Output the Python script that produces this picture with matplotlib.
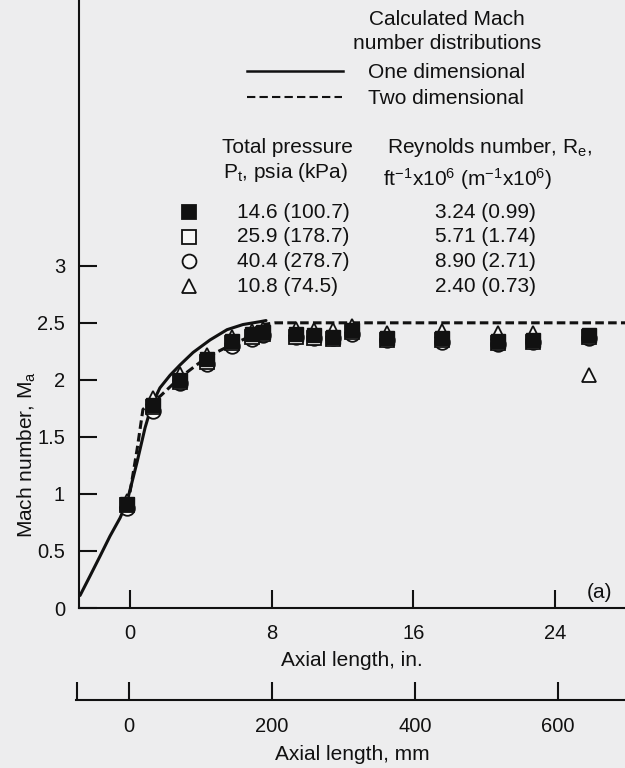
import matplotlib
matplotlib.use('Agg')
import matplotlib.pyplot as plt
from matplotlib.lines import Line2D

plt.rcParams['font.family'] = 'Liberation Sans'
plt.rcParams['mathtext.fontset'] = 'custom'
plt.rcParams['mathtext.rm'] = 'Liberation Sans'
plt.rcParams['mathtext.it'] = 'Liberation Sans:italic'
plt.rcParams['mathtext.default'] = 'regular'

## calculated Mach number distributions (axial length in inches)
one_dim_x = [-2.82, -2.26, -1.69, -1.13, -0.56, -0.17, 0.40, 0.85, 1.24, 1.69,
             2.26, 2.82, 3.56, 4.52, 5.48, 6.38, 7.34, 7.68]
one_dim_m = [0.11, 0.28, 0.455, 0.63, 0.79, 0.93, 1.28, 1.58, 1.785, 1.93,
             2.04, 2.13, 2.24, 2.35, 2.44, 2.485, 2.51, 2.52]
two_dim_x = [0.0, 0.40, 0.73, 1.24, 1.69, 2.82, 4.35, 5.76, 6.78, 7.51, 8.19, 27.95]
two_dim_m = [1.015, 1.39, 1.74, 1.82, 1.855, 2.02, 2.20, 2.31, 2.38, 2.485, 2.50, 2.50]

## measured points
station_in = [-0.17, 1.28, 2.82, 4.35, 5.76, 6.89, 7.51, 9.37, 10.39, 11.46,
              12.54, 14.51, 17.62, 20.78, 22.76, 25.92]
mach_p146 = [0.91, 1.78, 2.00, 2.18, 2.34, 2.40, 2.42, 2.40, 2.39, 2.38,
             2.44, 2.37, 2.37, 2.34, 2.35, 2.39]
mach_p259 = [0.90, 1.76, 1.98, 2.16, 2.32, 2.38, 2.40, 2.38, 2.37, 2.36,
             2.42, 2.35, 2.35, 2.32, 2.33, 2.38]
mach_p404 = [0.88, 1.73, 1.97, 2.14, 2.30, 2.36, 2.39, 2.38, 2.37, 2.37,
             2.40, 2.35, 2.33, 2.31, 2.33, 2.37]
mach_p108 = [0.94, 1.84, 2.05, 2.22, 2.38, 2.43, 2.45, 2.45, 2.44, 2.44,
             2.47, 2.41, 2.43, 2.41, 2.41, 2.04]

pressure_labels = ['14.6 (100.7)', '25.9 (178.7)', '40.4 (278.7)', '10.8 (74.5)']
reynolds_labels = ['3.24 (0.99)', '5.71 (1.74)', '8.90 (2.71)', '2.40 (0.73)']

in_ticks = [0, 8, 16, 24]
mm_ticks = [0, 200, 400, 600]
mach_ticks = [0, 0.5, 1, 1.5, 2, 2.5, 3]
mach_ticklabels = ['0', '0.5', '1', '1.5', '2', '2.5', '3']

bg = '#ededee'
ink = '#111111'
W, H = 625.0, 768.0


def fx(x):
    return x / W


def fy(y):
    return 1 - y / H


fig = plt.figure(figsize=(6.25, 7.68), dpi=100, facecolor=bg)
ax = fig.add_axes([fx(79), fy(608), 1 - fx(79), 608 / H])
ax.set_facecolor(bg)
for s in ['top', 'right']:
    ax.spines[s].set_visible(False)
for s in ['left', 'bottom']:
    ax.spines[s].set_linewidth(1.5)
    ax.spines[s].set_color(ink)

ax.plot(one_dim_x, one_dim_m, color=ink, lw=2.2, zorder=2, solid_capstyle='round')
ax.plot(two_dim_x, two_dim_m, color=ink, lw=2.2, ls=(0, (2.8, 1.4)), zorder=2)

ax.plot(station_in, mach_p404, ls='none', marker='o', ms=10.5, mfc='#f7f7f7',
        mec=ink, mew=1.3, zorder=3)
ax.plot(station_in, mach_p259, ls='none', marker='s', ms=10.5, mfc='#f7f7f7',
        mec=ink, mew=1.3, zorder=4)
ax.plot(station_in, mach_p108, ls='none', marker='^', ms=10.5, mfc='#f7f7f7',
        mec=ink, mew=1.3, zorder=5)
ax.plot(station_in, mach_p146, ls='none', marker='s', ms=10.5, mfc=ink,
        mec=ink, mew=1.0, zorder=6)

ax.set_xlim(-2.88, 27.95)
ax.set_ylim(0, 5.33)
ax.set_xticks(in_ticks)
ax.set_xticklabels([str(t) for t in in_ticks])
ax.set_yticks(mach_ticks)
ax.set_yticklabels(mach_ticklabels)
ax.tick_params(axis='both', direction='in', length=13, width=1.5, color=ink,
               labelsize=14.5, labelcolor=ink)
ax.tick_params(axis='x', pad=11.5)
ax.tick_params(axis='y', pad=10)

ax.set_xlabel('Axial length, in.', fontsize=15, color=ink)
ax.xaxis.set_label_coords(0.5, -0.071)
ax.set_ylabel('Mach number, M$_a$', fontsize=15, color=ink)
ax.yaxis.set_label_coords(-0.075, 0.253)
ax.text((600 - 79) / (W - 79), (608 - 593) / 608, '(a)',
        transform=ax.transAxes, fontsize=15, color=ink, ha='center', va='center')

## second scale in millimetres
mm_lim = (-74.1, 693.7)
ax_mm = fig.add_axes([fx(76), fy(700), 1 - fx(76), 0.0001])
ax_mm.set_facecolor('none')
for s in ['top', 'right', 'left']:
    ax_mm.spines[s].set_visible(False)
ax_mm.spines['bottom'].set_linewidth(1.5)
ax_mm.spines['bottom'].set_color(ink)
ax_mm.set_yticks([])
ax_mm.set_xlim(mm_lim)
ax_mm.set_xticks(mm_ticks)
ax_mm.set_xticklabels([str(t) for t in mm_ticks])
ax_mm.set_xticks([mm_lim[0] + 1], minor=True)
ax_mm.tick_params(axis='x', which='both', direction='in', length=13, width=1.5,
                  color=ink, labelsize=14.5, labelcolor=ink, pad=12)
fig.text(fx(352), fy(745), 'Axial length, mm', fontsize=15, color=ink,
         ha='center', va='top')

## legend block
fig.text(fx(447), fy(25), 'Calculated Mach', fontsize=15, color=ink,
         ha='center', va='baseline')
fig.text(fx(447), fy(49), 'number distributions', fontsize=15, color=ink,
         ha='center', va='baseline')
fig.add_artist(Line2D([fx(247), fx(343)], [fy(71), fy(71)], color=ink, lw=1.8))
fig.add_artist(Line2D([fx(247), fx(342)], [fy(97), fy(97)], color=ink, lw=1.5,
                      ls=(0, (4, 2))))
fig.text(fx(368), fy(78), 'One dimensional', fontsize=15, color=ink, va='baseline')
fig.text(fx(368), fy(104), 'Two dimensional', fontsize=15, color=ink, va='baseline')

fig.text(fx(222), fy(153), 'Total pressure', fontsize=15, color=ink, va='baseline')
fig.text(fx(223), fy(178), 'P$_t$, psia (kPa)', fontsize=15, color=ink, va='baseline')
fig.text(fx(387), fy(153), 'Reynolds number, R$_e$,', fontsize=15, color=ink,
         va='baseline')
fig.text(fx(383), fy(186), 'ft$^{-1}$x10$^6$ (m$^{-1}$x10$^6$)', fontsize=15,
         color=ink, va='baseline')

legend_marks = [('s', ink), ('s', '#f7f7f7'), ('o', '#f7f7f7'), ('^', '#f7f7f7')]
for i, (mk, fc) in enumerate(legend_marks):
    yb = 218 + 24.5 * i
    fig.add_artist(Line2D([fx(189)], [fy(yb - 6)], marker=mk, ms=10, mfc=fc,
                          mec=ink, mew=1.3, ls='none'))
    fig.text(fx(237), fy(yb), pressure_labels[i], fontsize=15, color=ink,
             va='baseline')
    fig.text(fx(435), fy(yb), reynolds_labels[i], fontsize=15, color=ink,
             va='baseline')

fig.savefig('out.png', dpi=100, facecolor=bg)
